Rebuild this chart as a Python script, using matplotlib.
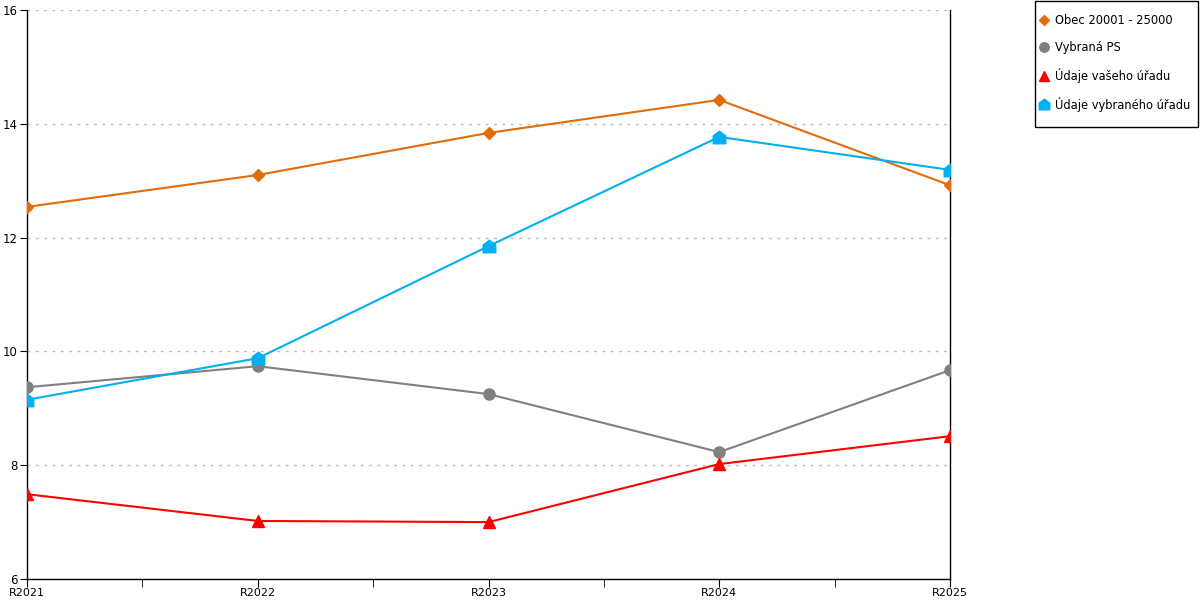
import matplotlib.pyplot as plt
import numpy as np
from matplotlib.path import Path
from matplotlib.patches import Rectangle
from matplotlib.ticker import MultipleLocator

years = ['R2021', 'R2022', 'R2023', 'R2024', 'R2025']
obec = [12.54, 13.10, 13.84, 14.42, 12.92]
vybrana_ps = [9.37, 9.74, 9.25, 8.23, 9.67]
vas_urad = [7.49, 7.02, 7.00, 8.02, 8.51]
vybrany_urad = [9.15, 9.88, 11.85, 13.77, 13.19]

labels = ['Obec 20001 - 25000', 'Vybraná PS', 'Údaje vašeho úřadu', 'Údaje vybraného úřadu']

# house shaped marker for the last series
house = Path([(-1, -1), (1, -1), (1, 0.25), (0, 1), (-1, 0.25), (-1, -1)],
             [Path.MOVETO, Path.LINETO, Path.LINETO, Path.LINETO, Path.LINETO, Path.CLOSEPOLY])

plt.rcParams['font.family'] = ['DejaVu Sans']

fig = plt.figure(figsize=(12, 6), dpi=100)
ax = fig.add_axes([27 / 1200, 1 - 579 / 600, (950 - 27) / 1200, 569 / 600])

x = np.arange(len(years))
ax.plot(x, obec, color='#e36c0a', lw=1.5, marker='D', ms=6, label=labels[0], zorder=3)
ax.plot(x, vybrana_ps, color='#808080', lw=1.5, marker='o', ms=8, label=labels[1], zorder=3)
ax.plot(x, vas_urad, color='#ff0000', lw=1.5, marker='^', ms=9, label=labels[2], zorder=3)
ax.plot(x, vybrany_urad, color='#00b0f0', lw=1.5, marker=house, ms=9, label=labels[3], zorder=3)

ax.set_xlim(0, len(years) - 1)
ax.set_ylim(6, 16)
ax.set_yticks([6, 8, 10, 12, 14, 16])
ax.set_xticks(x)
ax.set_xticklabels(years)
ax.xaxis.set_minor_locator(MultipleLocator(0.5))

ax.grid(axis='y', color='#bbbbbb', linestyle=(0, (2, 4)), lw=1)
ax.set_axisbelow(True)

ax.spines['top'].set_visible(False)
for s in ['left', 'right', 'bottom']:
    ax.spines[s].set_color('black')
    ax.spines[s].set_linewidth(1)

ax.tick_params(axis='x', which='both', direction='out', length=6, labelsize=8, pad=0.5)
ax.tick_params(axis='y', direction='out', length=5, labelsize=8.5, pad=2)

# legend without its own frame, box drawn separately
leg = fig.legend(loc='upper left', bbox_to_anchor=(1039 / 1200, 1 - 14 / 600),
                 fontsize=8.3, frameon=False,
                 handlelength=0.8, handletextpad=0.55, labelspacing=1.2,
                 borderpad=0, borderaxespad=0, markerscale=0.85)
for h in leg.legend_handles:
    h.set_linestyle('none')
fig.patches.append(Rectangle((1035 / 1200, 1 - 127 / 600), 163 / 1200, 126 / 600,
                             transform=fig.transFigure, fill=False,
                             edgecolor='black', lw=1))

fig.savefig('out.png', dpi=100)
